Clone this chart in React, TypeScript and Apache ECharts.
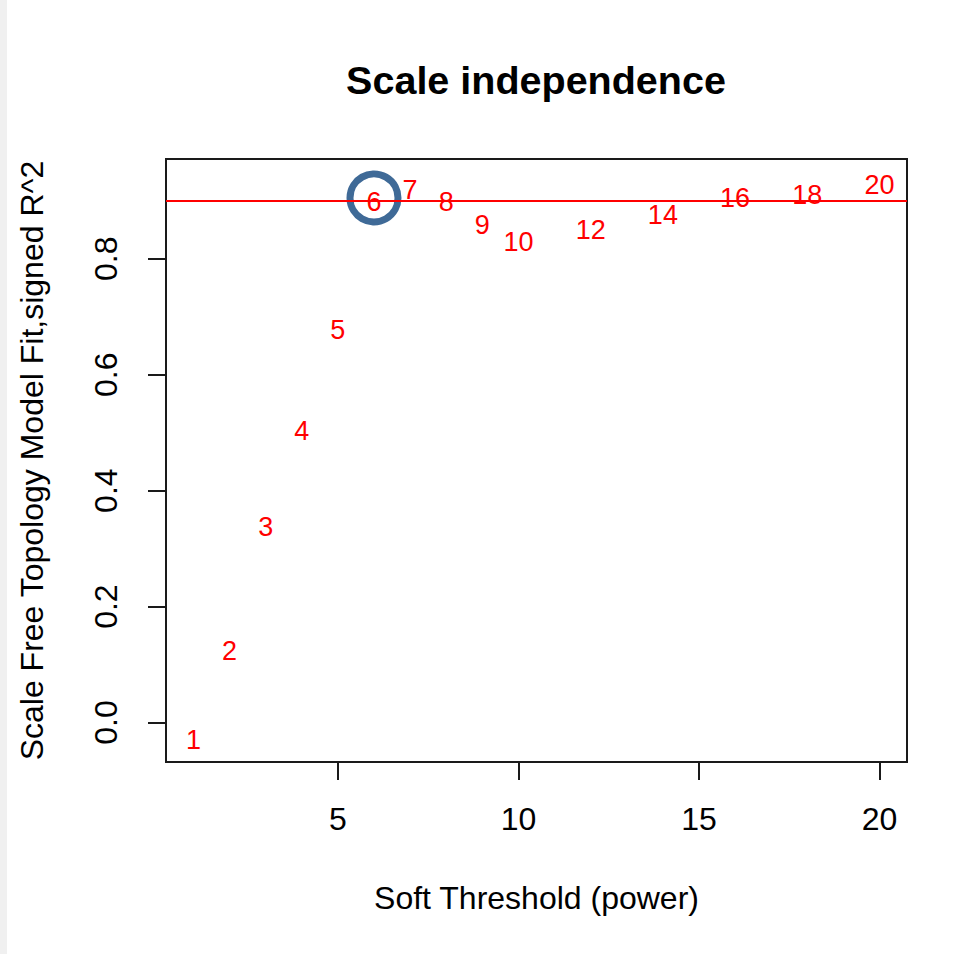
import React, { useEffect, useRef } from "react";
import * as echarts from "echarts";

const powers = [1, 2, 3, 4, 5, 6, 7, 8, 9, 10, 12, 14, 16, 18, 20];
const signedR2 = [-0.03, 0.124, 0.338, 0.503, 0.677, 0.898, 0.918, 0.898, 0.858, 0.829, 0.849, 0.875, 0.904, 0.91, 0.928];
const cutoffR2 = 0.9;
const chosenPower = 6;
const xTicks = [5, 10, 15, 20];
const yTicks = [0, 0.2, 0.4, 0.6, 0.8];
const titleText = "Scale independence";
const xTitle = "Soft Threshold (power)";
const yTitle = "Scale Free Topology Model Fit,signed R^2";

const FONT = "'Liberation Sans', Arial, Helvetica, sans-serif";

export default function App() {
  const ref = useRef<HTMLDivElement>(null);

  useEffect(() => {
    if (!ref.current) return;
    const chart = echarts.init(ref.current, null, { renderer: "svg" });
    const points = powers.map((p, i) => [p, signedR2[i]]);
    const chosenIdx = powers.indexOf(chosenPower);

    chart.setOption({
      animation: false,
      backgroundColor: "#ffffff",
      graphic: [
        {
          type: "rect",
          left: 0,
          top: 0,
          shape: { x: 0, y: 0, width: 7, height: 954 },
          style: { fill: "#f0f0f0" },
          silent: true,
        },
        {
          type: "text",
          x: 536,
          y: 80,
          style: {
            text: titleText,
            fontFamily: FONT,
            fontSize: 39.5,
            fontWeight: "bold",
            fill: "#000000",
            align: "center",
            verticalAlign: "middle",
          },
        },
      ],
      grid: {
        left: 166,
        top: 159,
        right: 71,
        bottom: 192,
        show: true,
        borderColor: "#1a1a1a",
        borderWidth: 2,
        backgroundColor: "transparent",
      },
      xAxis: {
        type: "value",
        min: 0.24,
        max: 20.76,
        name: xTitle,
        nameLocation: "middle",
        nameGap: 120,
        nameTextStyle: { fontFamily: FONT, fontSize: 32, color: "#000" },
        axisLine: { show: false, onZero: false },
        splitLine: { show: false },
        axisTick: {
          show: true,
          inside: false,
          length: 18,
          customValues: xTicks,
          lineStyle: { color: "#1a1a1a", width: 2 },
        },
        axisLabel: {
          show: true,
          customValues: xTicks,
          margin: 41,
          fontFamily: FONT,
          fontSize: 32,
          color: "#000",
        },
      },
      yAxis: {
        type: "value",
        min: -0.068,
        max: 0.972,
        name: yTitle,
        nameLocation: "middle",
        nameRotate: 90,
        nameGap: 118,
        nameTextStyle: { fontFamily: FONT, fontSize: 32, color: "#000" },
        axisLine: { show: false, onZero: false },
        splitLine: { show: false },
        axisTick: {
          show: true,
          inside: false,
          length: 18,
          customValues: yTicks,
          lineStyle: { color: "#1a1a1a", width: 2 },
        },
        axisLabel: {
          show: true,
          customValues: yTicks,
          rotate: 90,
          margin: 44,
          fontFamily: FONT,
          fontSize: 32,
          color: "#000",
          formatter: (v: number) => v.toFixed(1),
        },
      },
      series: [
        {
          type: "scatter",
          data: points,
          symbolSize: 0,
          itemStyle: { color: "#ff0000", opacity: 1 },
          label: {
            show: true,
            position: "inside",
            formatter: (p: any) => String(p.value[0]),
            color: "#ff0000",
            opacity: 1,
            fontFamily: FONT,
            fontSize: 27,
          },
          markLine: {
            silent: true,
            symbol: ["none", "none"],
            label: { show: false },
            lineStyle: { color: "#ff0000", width: 2, type: "solid", opacity: 1 },
            data: [{ yAxis: cutoffR2 }],
          },
          z: 3,
        },
        {
          type: "scatter",
          data: [points[chosenIdx]],
          symbol: "circle",
          symbolSize: 48,
          symbolOffset: [0, -4],
          itemStyle: {
            color: "rgba(0,0,0,0)",
            borderColor: "#3f6a97",
            borderWidth: 7,
            opacity: 1,
          },
          label: { show: false },
          z: 4,
        },
      ],
    });

    return () => chart.dispose();
  }, []);

  return (
    <div
      ref={ref}
      style={{ position: "absolute", left: 0, top: 0, width: 978, height: 954 }}
    />
  );
}
